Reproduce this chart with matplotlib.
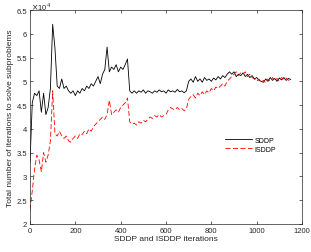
import numpy as np
import matplotlib
matplotlib.use("Agg")
import matplotlib.pyplot as plt
from matplotlib.ticker import FuncFormatter, MultipleLocator

plt.rcParams['font.family'] = ['Liberation Sans', 'DejaVu Sans']

# iteration index (every 10 iterations)
iters = list(range(0, 1160, 10))

# SDDP (x 1e4)
sddp = [3.3, 4.55, 4.75, 4.7, 4.8, 4.35, 4.75, 4.3, 4.45, 4.85,
        6.2, 5.7, 4.9, 4.85, 5.05, 4.85, 4.9, 4.8, 4.75, 4.8,
        4.7, 4.8, 4.75, 4.85, 4.8, 4.9, 4.85, 4.95, 4.9, 5.0,
        5.1, 4.95, 5.15, 5.25, 5.72, 5.2, 5.3, 5.25, 5.35, 5.2,
        5.3, 5.25, 5.35, 5.47, 4.8, 4.75, 4.8, 4.75, 4.8, 4.77,
        4.82, 4.75, 4.8, 4.78, 4.75, 4.8, 4.77, 4.82, 4.78, 4.8,
        4.75, 4.82, 4.78, 4.8, 4.77, 4.83, 4.78, 4.8, 4.76, 4.8,
        5.0, 5.05, 4.98, 5.1, 5.0, 5.05, 4.98, 5.08, 5.02, 5.05,
        5.0, 5.07, 5.03, 5.1, 5.05, 5.12, 5.08, 5.15, 5.2, 5.15,
        5.2, 5.1, 5.15, 5.12, 5.18, 5.1, 5.15, 5.08, 5.12, 5.05,
        5.08, 5.02, 5.0, 4.98, 5.05, 5.0, 5.08, 5.02, 5.06, 5.0,
        5.07, 5.03, 5.08, 5.02, 5.06, 5.04]

# ISDDP (x 1e4)
isddp = [2.3, 2.7, 3.15, 3.45, 3.35, 3.1, 3.5, 3.3, 3.45, 3.75,
         4.8, 3.9, 3.85, 3.95, 3.85, 3.8, 3.85, 3.75, 3.72, 3.8,
         3.85, 3.8, 3.9, 3.88, 3.95, 3.9, 4.0, 3.95, 4.05, 4.1,
         4.15, 4.2, 4.25, 4.2, 4.3, 4.6, 4.3, 4.35, 4.4, 4.35,
         4.45, 4.5, 4.55, 4.65, 4.15, 4.1, 4.12, 4.08, 4.15, 4.12,
         4.18, 4.15, 4.2, 4.25, 4.22, 4.28, 4.25, 4.3, 4.25, 4.28,
         4.3, 4.4, 4.45, 4.42, 4.4, 4.45, 4.4, 4.43, 4.38, 4.42,
         4.62, 4.68, 4.72, 4.65, 4.75, 4.7, 4.78, 4.72, 4.8, 4.76,
         4.85, 4.8, 4.88, 4.85, 4.9, 4.95, 4.9, 5.0, 5.05, 5.1,
         5.15, 5.2, 5.12, 5.18, 5.15, 5.2, 5.1, 5.15, 5.08, 5.05,
         5.0, 5.05, 4.98, 5.02, 4.97, 5.05, 5.0, 5.08, 5.02, 5.06,
         5.0, 5.08, 5.04, 5.07, 5.02, 5.05]

x = np.array(iters)
y1 = np.array(sddp) * 1e4
y2 = np.array(isddp) * 1e4

fig = plt.figure(figsize=(3.11, 2.53), dpi=100)
ax = fig.add_axes([0.0965, 0.1107, 0.8745, 0.8458])

ax.plot(x, y1, color='black', lw=0.6, label='SDDP')
ax.plot(x, y2, color='red', lw=0.6, ls=(0, (6, 3)), label='ISDDP')

ax.set_xlim(0, 1200)
ax.set_ylim(2e4, 6.5e4)
ax.xaxis.set_major_locator(MultipleLocator(200))
ax.yaxis.set_major_locator(MultipleLocator(5000))
ax.yaxis.set_major_formatter(FuncFormatter(lambda v, p: '%g' % (v / 1e4)))

# exponent label like MATLAB
ax.text(0.005, 0.997, r'$\times$10', transform=ax.transAxes, fontsize=5.5,
        color='#262626', ha='left', va='bottom')
ax.text(0.062, 1.015, '4', transform=ax.transAxes, fontsize=4,
        color='#262626', ha='left', va='bottom')

ax.tick_params(direction='in', top=True, right=True, length=2.5, width=0.5,
               labelsize=5.5, colors='#262626', pad=2)
for s in ax.spines.values():
    s.set_linewidth(0.5)
    s.set_color('#262626')

ax.set_xlabel('SDDP and ISDDP iterations', fontsize=6, color='#262626', labelpad=1)
ax.set_ylabel('Total number of iterations to solve subproblems', fontsize=6,
              color='#262626', labelpad=2)

ax.legend(loc='center', bbox_to_anchor=(0.81, 0.37), frameon=False, fontsize=5,
          handlelength=4, handletextpad=0.3, labelspacing=0.3)

fig.savefig('out.png', dpi=100)
